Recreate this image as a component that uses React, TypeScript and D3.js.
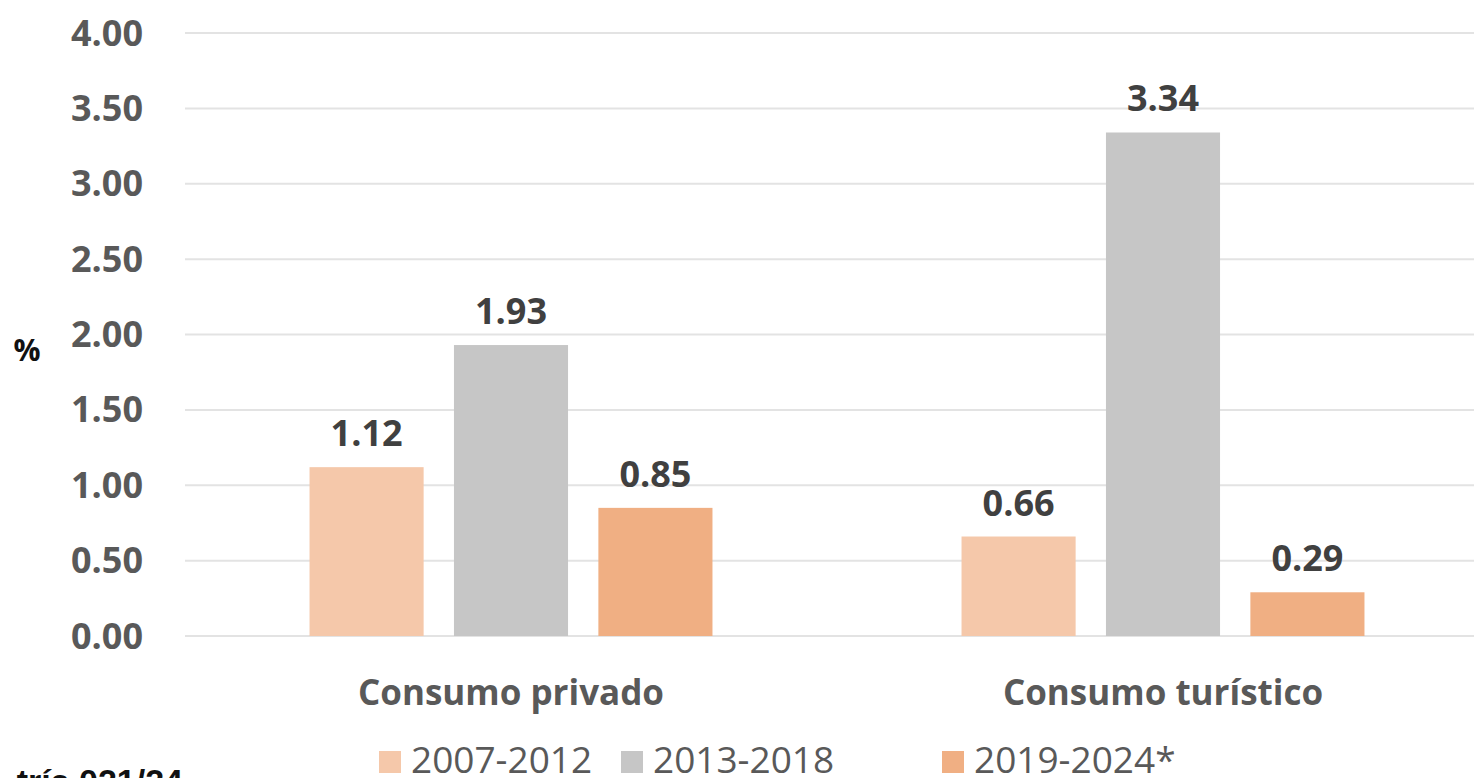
import React, { useEffect, useRef } from 'react';
import * as d3 from 'd3';

const categories = ['Consumo privado', 'Consumo turístico'];
const series = ['2007-2012', '2013-2018', '2019-2024*'];
const values2007 = [1.12, 0.66];
const values2013 = [1.93, 3.34];
const values2019 = [0.85, 0.29];
const yTicks = [0, 0.5, 1, 1.5, 2, 2.5, 3, 3.5, 4];
const colors = ['#F5C8AA', '#C6C6C6', '#F0AF83'];

const W = 1474;
const H = 778;
const FONT = '"Open Sans", "Noto Sans", sans-serif';

const App = () => {
  const svgRef = useRef<SVGSVGElement>(null);

  useEffect(() => {
    const svg = d3.select(svgRef.current);
    svg.selectAll('*').remove();

    const seriesValues = [values2007, values2013, values2019];
    const rows = categories.map((c, i) => ({
      cat: c,
      vals: series.map((s, j) => ({ s, v: seriesValues[j][i] })),
    }));

    const x0 = d3.scaleBand()
      .domain(categories)
      .range([185, 1489])
      .paddingInner(0.382)
      .paddingOuter(0.191);

    const x1 = d3.scaleBand()
      .domain(series)
      .range([0, x0.bandwidth()])
      .paddingInner(0.21);

    const y = d3.scaleLinear().domain([0, 4]).range([636, 33]);

    // grid
    svg.append('g')
      .selectAll('line')
      .data(yTicks)
      .enter()
      .append('line')
      .attr('x1', 185)
      .attr('x2', W)
      .attr('y1', d => y(d))
      .attr('y2', d => y(d))
      .style('stroke', '#E3E3E3')
      .style('stroke-width', 2);

    // tick labels
    svg.append('g')
      .selectAll('text')
      .data(yTicks)
      .enter()
      .append('text')
      .attr('x', 143)
      .attr('y', d => y(d))
      .attr('dy', '0.35em')
      .attr('text-anchor', 'end')
      .style('font-family', FONT)
      .style('font-weight', 700)
      .style('font-size', '36px')
      .style('fill', '#595959')
      .text(d => d3.format('.2f')(d));

    // % label
    svg.append('text')
      .attr('x', 27)
      .attr('y', 350)
      .attr('dy', '0.35em')
      .attr('text-anchor', 'middle')
      .style('font-family', FONT)
      .style('font-weight', 700)
      .style('font-size', '30px')
      .style('fill', '#111')
      .text('%');

    const groups = svg.append('g')
      .selectAll('g')
      .data(rows)
      .enter()
      .append('g')
      .attr('transform', d => `translate(${x0(d.cat)},0)`);

    groups.selectAll('rect')
      .data(d => d.vals)
      .enter()
      .append('rect')
      .attr('x', d => x1(d.s)!)
      .attr('y', d => y(d.v))
      .attr('width', x1.bandwidth())
      .attr('height', d => y(0) - y(d.v))
      .style('fill', (d, i) => colors[i]);

    groups.selectAll('text')
      .data(d => d.vals)
      .enter()
      .append('text')
      .attr('x', d => x1(d.s)! + x1.bandwidth() / 2)
      .attr('y', d => y(d.v) - 21)
      .attr('text-anchor', 'middle')
      .style('font-family', FONT)
      .style('font-weight', 700)
      .style('font-size', '36px')
      .style('fill', '#404040')
      .text(d => d3.format('.2f')(d.v));

    // category labels
    svg.append('g')
      .selectAll('text')
      .data(categories)
      .enter()
      .append('text')
      .attr('x', d => x0(d)! + x0.bandwidth() / 2)
      .attr('y', 705)
      .attr('text-anchor', 'middle')
      .style('font-family', FONT)
      .style('font-weight', 700)
      .style('font-size', '35px')
      .style('fill', '#595959')
      .text(d => d);

    // legend
    const legendX = [379, 621, 942];
    const legend = svg.append('g')
      .selectAll('g')
      .data(series)
      .enter()
      .append('g')
      .attr('transform', (d, i) => `translate(${legendX[i]},751)`);

    legend.append('rect')
      .attr('width', 22)
      .attr('height', 22)
      .style('fill', (d, i) => colors[i]);

    legend.append('text')
      .attr('x', 32)
      .attr('y', 22)
      .style('font-family', FONT)
      .style('font-size', '37px')
      .style('fill', '#595959')
      .text(d => d);

    // cropped source note
    svg.append('text')
      .attr('x', 183)
      .attr('y', 793)
      .attr('text-anchor', 'end')
      .style('font-family', '"Liberation Sans", Arial, sans-serif')
      .style('font-weight', 700)
      .style('font-size', '34px')
      .style('fill', '#111')
      .text('tría 021/24');
  }, []);

  return (
    <svg
      ref={svgRef}
      width={W}
      height={H}
      style={{ position: 'absolute', left: 0, top: 0, background: '#fff' }}
    />
  );
};

export default App;
